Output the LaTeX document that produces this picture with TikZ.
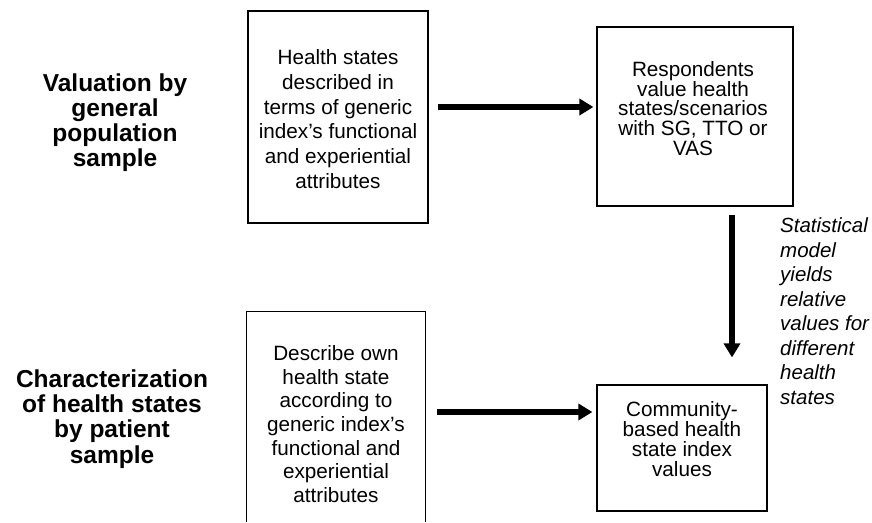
\documentclass[tikz,border=0pt]{standalone}
\usepackage{fontspec}
\setmainfont{Liberation Sans}
\usetikzlibrary{arrows.meta}
\tikzset{
  boxline/.style={draw=black, line width=1.2pt},
  box/.style={boxline, inner sep=0pt},
  openbox/.style={draw=none, inner sep=0pt},
  boxtext/.style={align=center, inner sep=0pt, font=\fontsize{20.7}{24.8}\selectfont},
  boxtextb/.style={align=center, inner sep=0pt, font=\fontsize{20.7}{23.7}\selectfont},
  tighttext/.style={align=center, inner sep=0pt, font=\fontsize{20.7}{19.8}\selectfont},
  sidelabel/.style={align=center, inner sep=0pt, font=\fontsize{24.5}{25.2}\selectfont\bfseries},
  note/.style={align=left, inner sep=0pt, font=\fontsize{20.5}{24.5}\selectfont\itshape},
  bigarrow/.style={line width=5.5pt, -{Triangle[length=14pt,width=16pt]}},
}
\begin{document}
\begin{tikzpicture}[x=1pt,y=-1pt]
\useasboundingbox (0,0) rectangle (872,522);

% side labels
\node[sidelabel] (lab1) at (115,122.5) {Valuation by\\general\\population\\sample};
\node[sidelabel] (lab2) at (112,419) {Characterization\\of health states\\by patient\\sample};

% boxes
\node[box, minimum width=180pt, minimum height=212pt] (b1) at (338,117) {};
\node[box, minimum width=196pt, minimum height=179pt] (b2) at (695,116.5) {};
\node[openbox, minimum width=178pt, minimum height=210pt] (b3) at (336,417) {};
\draw[boxline] (b3.south west) |- (b3.north east) -- (b3.south east);
\node[box, minimum width=170pt, minimum height=126pt] (b4) at (682,448) {};

% box texts
\node[boxtext] (t1) at (338,119) {Health states\\described in\\terms of generic\\index’s functional\\and experiential\\attributes};
\node[tighttext] (t2) at (693,108.5) {Respondents\\value health\\states/scenarios\\with SG, TTO or\\VAS};
\node[boxtextb] (t3) at (336,424) {Describe own\\health state\\according to\\generic index’s\\functional and\\experiential\\attributes};
\node[tighttext] (t4) at (682,439) {Community-\\based health\\state index\\values};

% note
\node[note, anchor=west] (n1) at (780,311) {Statistical\\model\\yields\\relative\\values for\\different\\health\\states};

% arrows
\draw[bigarrow] ([shift={(9,-10)}]b1.east) -- ([shift={(-3,-9.5)}]b2.west);
\draw[bigarrow] ([shift={(37,8)}]b2.south) -- ([shift={(50,-27)}]b4.north);
\draw[bigarrow] ([shift={(12,-5)}]b3.east) -- ([shift={(-4,-36)}]b4.west);
\end{tikzpicture}
\end{document}
